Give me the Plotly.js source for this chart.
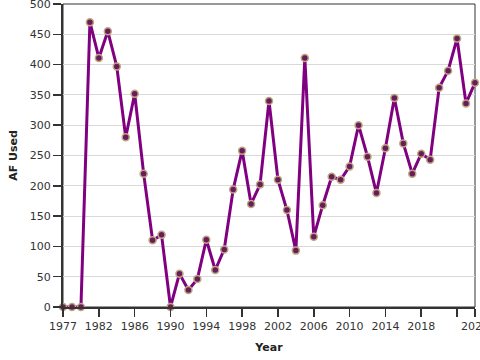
<!DOCTYPE html>
<html>
<head>
<meta charset="utf-8">
<script src="https://cdn.plot.ly/plotly-3.0.1.min.js"></script>
<style>html,body{margin:0;padding:0;background:#fff;}#chart{width:480px;height:360px;}</style>
</head>
<body>
<div id="chart"></div>
<script>
const years = [1978,1979,1980,1981,1982,1983,1984,1985,1986,1987,1988,1989,1990,1991,1992,1993,1994,1995,1996,1997,1998,1999,2000,2001,2002,2003,2004,2005,2006,2007,2008,2009,2010,2011,2012,2013,2014,2015,2016,2017,2018,2019,2020,2021,2022,2023,2024];
const afUsed = [0,0,0,470,411,455,397,280,352,220,110,119,0,55,28,46,111,61,95,194,258,170,202,340,210,160,93,411,116,168,215,210,232,300,248,188,262,345,270,220,253,243,362,390,443,336,370];
const tickVals = [1978,1982,1986,1990,1994,1998,2002,2006,2010,2014,2018,2022,2024];
const tickText = ["1977","1982","1986","1990","1994","1998","2002","2006","2010","2014","2018","","2024"];
const yTicks = [0,50,100,150,200,250,300,350,400,450,500];

const trace = {
  x: years, y: afUsed, type: 'scatter', mode: 'lines+markers',
  line: {color: '#800080', width: 3},
  marker: {size: 7, color: '#6a1b5c', line: {color: '#bba77f', width: 1.5}},
  cliponaxis: false, hoverinfo: 'none'
};
const font = {family: 'DejaVu Sans, Verdana, sans-serif', size: 11, color: '#333'};
const titleFont = {family: 'DejaVu Sans, Verdana, sans-serif', size: 11, color: '#222', weight: 'bold'};
const layout = {
  width: 480, height: 360,
  margin: {l: 63, r: 5, t: 4, b: 53},
  paper_bgcolor: '#fff', plot_bgcolor: '#fff',
  font: font, showlegend: false,
  xaxis: {
    range: [1977.995, 2024.005], tickmode: 'array', tickvals: tickVals, ticktext: tickText,
    showgrid: false, zeroline: false, showline: true, linecolor: '#333', linewidth: 2,
    ticks: 'outside', ticklen: 8, tickwidth: 1.5, tickcolor: '#333',
    tickfont: font, ticklabeloverflow: 'allow',
    title: {text: 'Year', font: titleFont, standoff: 11}
  },
  yaxis: {
    range: [-0.05, 500.05], tickmode: 'array', tickvals: yTicks,
    showgrid: true, gridcolor: '#d9d9d9', gridwidth: 1, zeroline: false,
    showline: true, linecolor: '#333', linewidth: 2,
    ticks: 'outside', ticklen: 8, tickwidth: 1.5, tickcolor: '#333',
    tickfont: font, ticklabeloverflow: 'allow',
    title: {text: 'AF Used', font: titleFont, standoff: 10}
  },
  shapes: [{type: 'rect', xref: 'paper', yref: 'paper', x0: 0, x1: 1, y0: 0, y1: 1, line: {color: '#333', width: 1}, layer: 'below'}]
};
Plotly.newPlot('chart', [trace], layout, {staticPlot: true, displayModeBar: false});
</script>
</body>
</html>
